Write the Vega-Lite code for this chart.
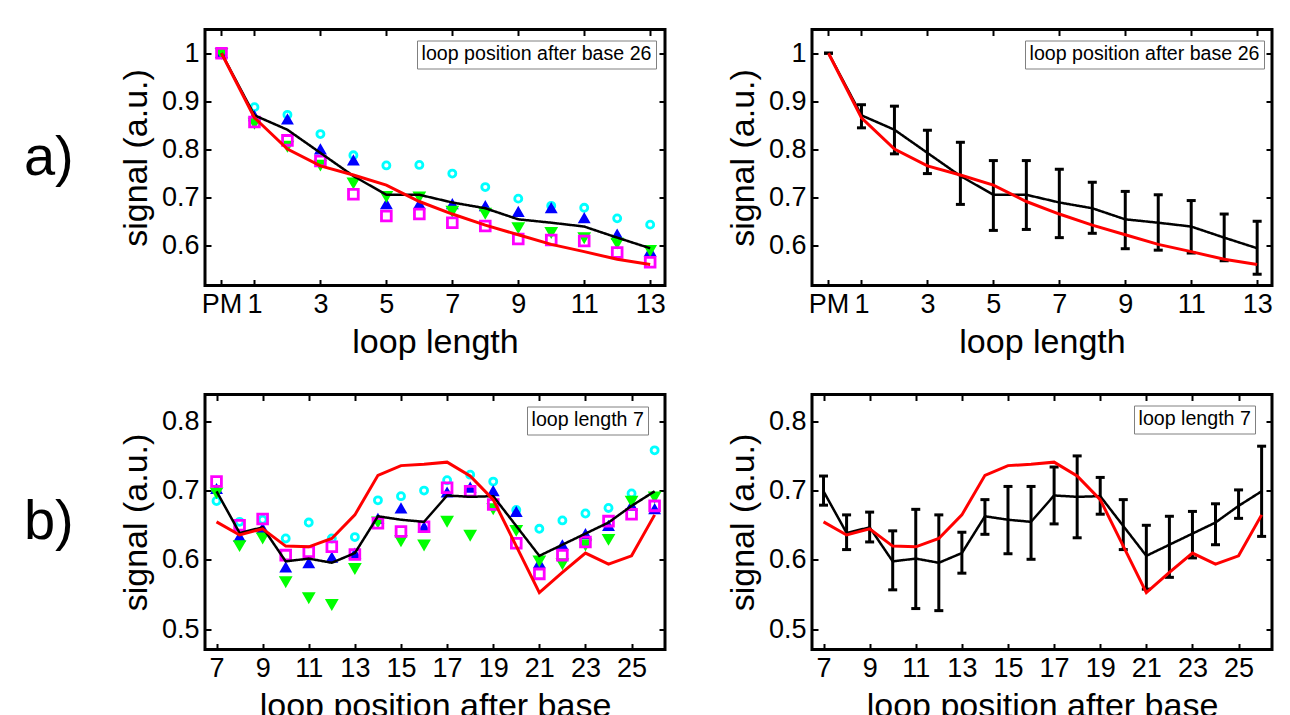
{
  "$schema": "https://vega.github.io/schema/vega-lite/v6.json",
  "background": "white",
  "padding": {"left": 22, "top": 26.5, "right": 5, "bottom": 5},
  "bounds": "flush",
  "columns": 2,
  "spacing": {"row": 109, "column": 147},
  "resolve": {"scale": {"strokeDash": "independent"}, "legend": {"strokeDash": "independent"}},
  "config": {
    "font": "Liberation Sans",
    "view": {"stroke": "black", "strokeWidth": 3},
    "axis": {"labelFont": "Liberation Sans", "labelFontSize": 27, "labelColor": "black", "titleFont": "Liberation Sans", "titleFontSize": 34, "titleFontWeight": "normal", "titleColor": "black", "tickColor": "black", "tickSize": -6, "tickWidth": 2, "domain": false, "grid": false, "labelPadding": 12, "titlePadding": 8, "labelFlush": false, "labelOverlap": false},
    "legend": {"labelFont": "Liberation Sans", "labelFontSize": 19.6, "labelColor": "black", "labelLimit": 0, "strokeColor": "#808080", "fillColor": "white", "padding": 4, "symbolSize": 0, "symbolOpacity": 0, "symbolStrokeWidth": 0, "labelOffset": -19, "titlePadding": 0}
  },
  "datasets": {
    "top_scatter": [
      {"x":0,"s":"s1","v":1.0},{"x":0,"s":"s2","v":1.0},{"x":0,"s":"s3","v":1.0},{"x":0,"s":"s4","v":1.0},
      {"x":1,"s":"s1","v":0.888},{"x":1,"s":"s2","v":0.869},{"x":1,"s":"s3","v":0.855},{"x":1,"s":"s4","v":0.857},
      {"x":2,"s":"s1","v":0.872},{"x":2,"s":"s2","v":0.862},{"x":2,"s":"s3","v":0.807},{"x":2,"s":"s4","v":0.819},
      {"x":3,"s":"s1","v":0.832},{"x":3,"s":"s2","v":0.800},{"x":3,"s":"s3","v":0.768},{"x":3,"s":"s4","v":0.776},
      {"x":4,"s":"s1","v":0.788},{"x":4,"s":"s2","v":0.777},{"x":4,"s":"s3","v":0.731},{"x":4,"s":"s4","v":0.707},
      {"x":5,"s":"s1","v":0.767},{"x":5,"s":"s2","v":0.686},{"x":5,"s":"s3","v":0.703},{"x":5,"s":"s4","v":0.662},
      {"x":6,"s":"s1","v":0.768},{"x":6,"s":"s2","v":0.686},{"x":6,"s":"s3","v":0.702},{"x":6,"s":"s4","v":0.666},
      {"x":7,"s":"s1","v":0.750},{"x":7,"s":"s2","v":0.686},{"x":7,"s":"s3","v":0.672},{"x":7,"s":"s4","v":0.648},
      {"x":8,"s":"s1","v":0.722},{"x":8,"s":"s2","v":0.682},{"x":8,"s":"s3","v":0.668},{"x":8,"s":"s4","v":0.641},
      {"x":9,"s":"s1","v":0.698},{"x":9,"s":"s2","v":0.670},{"x":9,"s":"s3","v":0.638},{"x":9,"s":"s4","v":0.614},
      {"x":10,"s":"s1","v":0.683},{"x":10,"s":"s2","v":0.678},{"x":10,"s":"s3","v":0.628},{"x":10,"s":"s4","v":0.612},
      {"x":11,"s":"s1","v":0.679},{"x":11,"s":"s2","v":0.657},{"x":11,"s":"s3","v":0.617},{"x":11,"s":"s4","v":0.610},
      {"x":12,"s":"s1","v":0.657},{"x":12,"s":"s2","v":0.623},{"x":12,"s":"s3","v":0.606},{"x":12,"s":"s4","v":0.586},
      {"x":13,"s":"s1","v":0.644},{"x":13,"s":"s2","v":0.588},{"x":13,"s":"s3","v":0.591},{"x":13,"s":"s4","v":0.566}
    ],
    "top_mean": [
      {"x":0,"m":1.0,"lo":1.0,"hi":1.0},
      {"x":1,"m":0.871,"lo":0.845,"hi":0.893},
      {"x":2,"m":0.841,"lo":0.791,"hi":0.890},
      {"x":3,"m":0.793,"lo":0.750,"hi":0.840},
      {"x":4,"m":0.745,"lo":0.686,"hi":0.815},
      {"x":5,"m":0.706,"lo":0.632,"hi":0.777},
      {"x":6,"m":0.706,"lo":0.634,"hi":0.777},
      {"x":7,"m":0.690,"lo":0.617,"hi":0.759},
      {"x":8,"m":0.678,"lo":0.626,"hi":0.732},
      {"x":9,"m":0.655,"lo":0.594,"hi":0.713},
      {"x":10,"m":0.648,"lo":0.591,"hi":0.706},
      {"x":11,"m":0.640,"lo":0.585,"hi":0.694},
      {"x":12,"m":0.617,"lo":0.569,"hi":0.666},
      {"x":13,"m":0.595,"lo":0.541,"hi":0.651}
    ],
    "top_model": [
      {"x":0,"v":1.0},{"x":1,"v":0.866},{"x":2,"v":0.801},{"x":3,"v":0.766},{"x":4,"v":0.747},{"x":5,"v":0.726},{"x":6,"v":0.692},
      {"x":7,"v":0.666},{"x":8,"v":0.643},{"x":9,"v":0.623},{"x":10,"v":0.603},{"x":11,"v":0.588},{"x":12,"v":0.572},{"x":13,"v":0.561}
    ],
    "bot_scatter": [
      {"x":7,"s":"s1","v":0.685},{"x":7,"s":"s2","v":0.702},{"x":7,"s":"s3","v":0.697},{"x":7,"s":"s4","v":0.713},
      {"x":8,"s":"s1","v":0.655},{"x":8,"s":"s2","v":0.633},{"x":8,"s":"s3","v":0.621},{"x":8,"s":"s4","v":0.650},
      {"x":9,"s":"s1","v":0.658},{"x":9,"s":"s2","v":0.645},{"x":9,"s":"s3","v":0.632},{"x":9,"s":"s4","v":0.659},
      {"x":10,"s":"s1","v":0.631},{"x":10,"s":"s2","v":0.589},{"x":10,"s":"s3","v":0.569},{"x":10,"s":"s4","v":0.607},
      {"x":11,"s":"s1","v":0.654},{"x":11,"s":"s2","v":0.595},{"x":11,"s":"s3","v":0.546},{"x":11,"s":"s4","v":0.612},
      {"x":12,"s":"s1","v":0.631},{"x":12,"s":"s2","v":0.603},{"x":12,"s":"s3","v":0.536},{"x":12,"s":"s4","v":0.619},
      {"x":13,"s":"s1","v":0.633},{"x":13,"s":"s2","v":0.609},{"x":13,"s":"s3","v":0.588},{"x":13,"s":"s4","v":0.608},
      {"x":14,"s":"s1","v":0.686},{"x":14,"s":"s2","v":0.659},{"x":14,"s":"s3","v":0.655},{"x":14,"s":"s4","v":0.653},
      {"x":15,"s":"s1","v":0.692},{"x":15,"s":"s2","v":0.674},{"x":15,"s":"s3","v":0.628},{"x":15,"s":"s4","v":0.641},
      {"x":16,"s":"s1","v":0.700},{"x":16,"s":"s2","v":0.647},{"x":16,"s":"s3","v":0.622},{"x":16,"s":"s4","v":0.648},
      {"x":17,"s":"s1","v":0.715},{"x":17,"s":"s2","v":0.697},{"x":17,"s":"s3","v":0.656},{"x":17,"s":"s4","v":0.704},
      {"x":18,"s":"s1","v":0.723},{"x":18,"s":"s2","v":0.704},{"x":18,"s":"s3","v":0.636},{"x":18,"s":"s4","v":0.699},
      {"x":19,"s":"s1","v":0.713},{"x":19,"s":"s2","v":0.699},{"x":19,"s":"s3","v":0.674},{"x":19,"s":"s4","v":0.680},
      {"x":20,"s":"s1","v":0.672},{"x":20,"s":"s2","v":0.669},{"x":20,"s":"s3","v":0.643},{"x":20,"s":"s4","v":0.624},
      {"x":21,"s":"s1","v":0.645},{"x":21,"s":"s2","v":0.595},{"x":21,"s":"s3","v":0.599},{"x":21,"s":"s4","v":0.580},
      {"x":22,"s":"s1","v":0.657},{"x":22,"s":"s2","v":0.621},{"x":22,"s":"s3","v":0.595},{"x":22,"s":"s4","v":0.607},
      {"x":23,"s":"s1","v":0.667},{"x":23,"s":"s2","v":0.637},{"x":23,"s":"s3","v":0.622},{"x":23,"s":"s4","v":0.626},
      {"x":24,"s":"s1","v":0.675},{"x":24,"s":"s2","v":0.649},{"x":24,"s":"s3","v":0.630},{"x":24,"s":"s4","v":0.656},
      {"x":25,"s":"s1","v":0.696},{"x":25,"s":"s2","v":0.678},{"x":25,"s":"s3","v":0.685},{"x":25,"s":"s4","v":0.666},
      {"x":26,"s":"s1","v":0.758},{"x":26,"s":"s2","v":0.673},{"x":26,"s":"s3","v":0.691},{"x":26,"s":"s4","v":0.678}
    ],
    "bot_mean": [
      {"x":7,"m":0.699,"lo":0.679,"hi":0.721},
      {"x":8,"m":0.639,"lo":0.615,"hi":0.665},
      {"x":9,"m":0.647,"lo":0.626,"hi":0.669},
      {"x":10,"m":0.598,"lo":0.557,"hi":0.642},
      {"x":11,"m":0.602,"lo":0.530,"hi":0.673},
      {"x":12,"m":0.596,"lo":0.527,"hi":0.665},
      {"x":13,"m":0.610,"lo":0.581,"hi":0.640},
      {"x":14,"m":0.663,"lo":0.637,"hi":0.687},
      {"x":15,"m":0.658,"lo":0.609,"hi":0.706},
      {"x":16,"m":0.655,"lo":0.601,"hi":0.706},
      {"x":17,"m":0.693,"lo":0.652,"hi":0.734},
      {"x":18,"m":0.691,"lo":0.632,"hi":0.750},
      {"x":19,"m":0.692,"lo":0.666,"hi":0.719},
      {"x":20,"m":0.649,"lo":0.615,"hi":0.687},
      {"x":21,"m":0.606,"lo":0.558,"hi":0.650},
      {"x":22,"m":0.622,"lo":0.575,"hi":0.663},
      {"x":23,"m":0.638,"lo":0.603,"hi":0.670},
      {"x":24,"m":0.654,"lo":0.622,"hi":0.681},
      {"x":25,"m":0.678,"lo":0.660,"hi":0.701},
      {"x":26,"m":0.699,"lo":0.634,"hi":0.764}
    ],
    "bot_model": [
      {"x":7,"v":0.655},{"x":8,"v":0.636},{"x":9,"v":0.645},{"x":10,"v":0.620},{"x":11,"v":0.619},{"x":12,"v":0.631},{"x":13,"v":0.665},
      {"x":14,"v":0.722},{"x":15,"v":0.736},{"x":16,"v":0.738},{"x":17,"v":0.741},{"x":18,"v":0.721},{"x":19,"v":0.687},{"x":20,"v":0.620},
      {"x":21,"v":0.553},{"x":22,"v":0.582},{"x":23,"v":0.610},{"x":24,"v":0.594},{"x":25,"v":0.606},{"x":26,"v":0.665}
    ]
  },
  "concat": [
    {
      "width": 460, "height": 256,
      "title": {"text": "a)", "orient": "left", "angle": 0, "align": "right", "baseline": "middle", "fontSize": 56, "font": "Liberation Sans", "fontWeight": "normal", "color": "black", "offset": -4},
      "resolve": {"axis": {"x": "independent", "y": "independent"}},
      "layer": [
        {
          "data": {"name": "top_scatter"},
          "mark": {"type": "point", "opacity": 1, "strokeWidth": 2.8},
          "encoding": {
            "x": {"field": "x", "type": "quantitative", "scale": {"domain": [-0.5, 13.45], "nice": false, "zero": false},
                  "axis": {"orient": "bottom", "title": "loop length", "values": [0,1,3,5,7,9,11,13], "labelExpr": "datum.value == 0 ? 'PM' : datum.label"}},
            "y": {"field": "v", "type": "quantitative", "scale": {"domain": [0.5176, 1.0492], "nice": false, "zero": false},
                  "axis": {"orient": "left", "title": "signal (a.u.)", "values": [0.6,0.7,0.8,0.9,1], "format": "~g"}},
            "shape": {"field": "s", "type": "nominal", "scale": {"domain": ["s1","s2","s3","s4"], "range": ["circle","triangle-up","triangle-down","square"]}, "legend": null},
            "stroke": {"field": "s", "type": "nominal", "scale": {"domain": ["s1","s2","s3","s4"], "range": ["#00ffff","#0000ff","#00ff00","#ff00ff"]}, "legend": null},
            "fill": {"field": "s", "type": "nominal", "scale": {"domain": ["s1","s2","s3","s4"], "range": ["transparent","#0000ff","#00ff00","transparent"]}, "legend": null},
            "size": {"field": "s", "type": "nominal", "scale": {"domain": ["s1","s2","s3","s4"], "range": [50, 95, 95, 64]}, "legend": null}
          }
        },
        {
          "data": {"name": "top_mean"},
          "mark": {"type": "line", "color": "black", "strokeWidth": 2.5},
          "encoding": {
            "x": {"field": "x", "type": "quantitative", "scale": {"domain": [-0.5, 13.45], "nice": false, "zero": false},
                  "axis": {"orient": "top", "title": null, "labels": false, "values": [0,1,3,5,7,9,11,13]}},
            "y": {"field": "m", "type": "quantitative", "scale": {"domain": [0.5176, 1.0492], "nice": false, "zero": false},
                  "axis": {"orient": "right", "title": null, "labels": false, "values": [0.6,0.7,0.8,0.9,1]}},
            "strokeDash": {"datum": "loop position after base 26", "type": "nominal", "scale": {"range": [[1,0]]},
                           "legend": {"title": null, "orient": "none", "legendX": 212, "legendY": 11}}
          }
        },
        {
          "data": {"name": "top_model"},
          "mark": {"type": "line", "color": "#ff0000", "strokeWidth": 3},
          "encoding": {
            "x": {"field": "x", "type": "quantitative", "scale": {"domain": [-0.5, 13.45], "nice": false, "zero": false}, "axis": null},
            "y": {"field": "v", "type": "quantitative", "scale": {"domain": [0.5176, 1.0492], "nice": false, "zero": false}, "axis": null}
          }
        }
      ]
    },
    {
      "width": 460, "height": 256,
      "resolve": {"axis": {"x": "independent", "y": "independent"}},
      "layer": [
        {
          "data": {"name": "top_mean"},
          "mark": {"type": "rule", "color": "black", "strokeWidth": 3},
          "encoding": {
            "x": {"field": "x", "type": "quantitative", "scale": {"domain": [-0.5, 13.45], "nice": false, "zero": false},
                  "axis": {"orient": "bottom", "title": "loop length", "values": [0,1,3,5,7,9,11,13], "labelExpr": "datum.value == 0 ? 'PM' : datum.label"}},
            "y": {"field": "lo", "type": "quantitative", "scale": {"domain": [0.5176, 1.0492], "nice": false, "zero": false},
                  "axis": {"orient": "left", "title": "signal (a.u.)", "values": [0.6,0.7,0.8,0.9,1], "format": "~g"}},
            "y2": {"field": "hi"}
          }
        },
        {
          "data": {"name": "top_mean"},
          "mark": {"type": "tick", "orient": "horizontal", "color": "black", "size": 9, "thickness": 3, "opacity": 1},
          "encoding": {
            "x": {"field": "x", "type": "quantitative", "scale": {"domain": [-0.5, 13.45], "nice": false, "zero": false},
                  "axis": {"orient": "top", "title": null, "labels": false, "values": [0,1,3,5,7,9,11,13]}},
            "y": {"field": "lo", "type": "quantitative", "scale": {"domain": [0.5176, 1.0492], "nice": false, "zero": false},
                  "axis": {"orient": "right", "title": null, "labels": false, "values": [0.6,0.7,0.8,0.9,1]}}
          }
        },
        {
          "data": {"name": "top_mean"},
          "mark": {"type": "tick", "orient": "horizontal", "color": "black", "size": 9, "thickness": 3, "opacity": 1},
          "encoding": {
            "x": {"field": "x", "type": "quantitative", "scale": {"domain": [-0.5, 13.45], "nice": false, "zero": false}, "axis": null},
            "y": {"field": "hi", "type": "quantitative", "scale": {"domain": [0.5176, 1.0492], "nice": false, "zero": false}, "axis": null}
          }
        },
        {
          "data": {"name": "top_mean"},
          "mark": {"type": "line", "color": "black", "strokeWidth": 2.5},
          "encoding": {
            "x": {"field": "x", "type": "quantitative", "scale": {"domain": [-0.5, 13.45], "nice": false, "zero": false}, "axis": null},
            "y": {"field": "m", "type": "quantitative", "scale": {"domain": [0.5176, 1.0492], "nice": false, "zero": false}, "axis": null},
            "strokeDash": {"datum": "loop position after base 26", "type": "nominal", "scale": {"range": [[1,0]]},
                           "legend": {"title": null, "orient": "none", "legendX": 213, "legendY": 11}}
          }
        },
        {
          "data": {"name": "top_model"},
          "mark": {"type": "line", "color": "#ff0000", "strokeWidth": 3},
          "encoding": {
            "x": {"field": "x", "type": "quantitative", "scale": {"domain": [-0.5, 13.45], "nice": false, "zero": false}, "axis": null},
            "y": {"field": "v", "type": "quantitative", "scale": {"domain": [0.5176, 1.0492], "nice": false, "zero": false}, "axis": null}
          }
        }
      ]
    },
    {
      "width": 460, "height": 255,
      "title": {"text": "b)", "orient": "left", "angle": 0, "align": "right", "baseline": "middle", "fontSize": 56, "font": "Liberation Sans", "fontWeight": "normal", "color": "black", "offset": -4},
      "resolve": {"axis": {"x": "independent", "y": "independent"}},
      "layer": [
        {
          "data": {"name": "bot_scatter"},
          "mark": {"type": "point", "opacity": 1, "strokeWidth": 2.8},
          "encoding": {
            "x": {"field": "x", "type": "quantitative", "scale": {"domain": [6.5, 26.45], "nice": false, "zero": false},
                  "axis": {"orient": "bottom", "title": "loop position after base", "values": [7,9,11,13,15,17,19,21,23,25]}},
            "y": {"field": "v", "type": "quantitative", "scale": {"domain": [0.471, 0.8385], "nice": false, "zero": false},
                  "axis": {"orient": "left", "title": "signal (a.u.)", "values": [0.5,0.6,0.7,0.8], "format": "~g"}},
            "shape": {"field": "s", "type": "nominal", "scale": {"domain": ["s1","s2","s3","s4"], "range": ["circle","triangle-up","triangle-down","square"]}, "legend": null},
            "stroke": {"field": "s", "type": "nominal", "scale": {"domain": ["s1","s2","s3","s4"], "range": ["#00ffff","#0000ff","#00ff00","#ff00ff"]}, "legend": null},
            "fill": {"field": "s", "type": "nominal", "scale": {"domain": ["s1","s2","s3","s4"], "range": ["transparent","#0000ff","#00ff00","transparent"]}, "legend": null},
            "size": {"field": "s", "type": "nominal", "scale": {"domain": ["s1","s2","s3","s4"], "range": [50, 95, 95, 64]}, "legend": null}
          }
        },
        {
          "data": {"name": "bot_mean"},
          "mark": {"type": "line", "color": "black", "strokeWidth": 2.5},
          "encoding": {
            "x": {"field": "x", "type": "quantitative", "scale": {"domain": [6.5, 26.45], "nice": false, "zero": false},
                  "axis": {"orient": "top", "title": null, "labels": false, "values": [7,9,11,13,15,17,19,21,23,25]}},
            "y": {"field": "m", "type": "quantitative", "scale": {"domain": [0.471, 0.8385], "nice": false, "zero": false},
                  "axis": {"orient": "right", "title": null, "labels": false, "values": [0.5,0.6,0.7,0.8]}},
            "strokeDash": {"datum": "loop length 7", "type": "nominal", "scale": {"range": [[1,0]]},
                           "legend": {"title": null, "orient": "none", "legendX": 322, "legendY": 12}}
          }
        },
        {
          "data": {"name": "bot_model"},
          "mark": {"type": "line", "color": "#ff0000", "strokeWidth": 3},
          "encoding": {
            "x": {"field": "x", "type": "quantitative", "scale": {"domain": [6.5, 26.45], "nice": false, "zero": false}, "axis": null},
            "y": {"field": "v", "type": "quantitative", "scale": {"domain": [0.471, 0.8385], "nice": false, "zero": false}, "axis": null}
          }
        }
      ]
    },
    {
      "width": 460, "height": 255,
      "resolve": {"axis": {"x": "independent", "y": "independent"}},
      "layer": [
        {
          "data": {"name": "bot_mean"},
          "mark": {"type": "rule", "color": "black", "strokeWidth": 3},
          "encoding": {
            "x": {"field": "x", "type": "quantitative", "scale": {"domain": [6.5, 26.45], "nice": false, "zero": false},
                  "axis": {"orient": "bottom", "title": "loop position after base", "values": [7,9,11,13,15,17,19,21,23,25]}},
            "y": {"field": "lo", "type": "quantitative", "scale": {"domain": [0.471, 0.8385], "nice": false, "zero": false},
                  "axis": {"orient": "left", "title": "signal (a.u.)", "values": [0.5,0.6,0.7,0.8], "format": "~g"}},
            "y2": {"field": "hi"}
          }
        },
        {
          "data": {"name": "bot_mean"},
          "mark": {"type": "tick", "orient": "horizontal", "color": "black", "size": 9, "thickness": 3, "opacity": 1},
          "encoding": {
            "x": {"field": "x", "type": "quantitative", "scale": {"domain": [6.5, 26.45], "nice": false, "zero": false},
                  "axis": {"orient": "top", "title": null, "labels": false, "values": [7,9,11,13,15,17,19,21,23,25]}},
            "y": {"field": "lo", "type": "quantitative", "scale": {"domain": [0.471, 0.8385], "nice": false, "zero": false},
                  "axis": {"orient": "right", "title": null, "labels": false, "values": [0.5,0.6,0.7,0.8]}}
          }
        },
        {
          "data": {"name": "bot_mean"},
          "mark": {"type": "tick", "orient": "horizontal", "color": "black", "size": 9, "thickness": 3, "opacity": 1},
          "encoding": {
            "x": {"field": "x", "type": "quantitative", "scale": {"domain": [6.5, 26.45], "nice": false, "zero": false}, "axis": null},
            "y": {"field": "hi", "type": "quantitative", "scale": {"domain": [0.471, 0.8385], "nice": false, "zero": false}, "axis": null}
          }
        },
        {
          "data": {"name": "bot_mean"},
          "mark": {"type": "line", "color": "black", "strokeWidth": 2.5},
          "encoding": {
            "x": {"field": "x", "type": "quantitative", "scale": {"domain": [6.5, 26.45], "nice": false, "zero": false}, "axis": null},
            "y": {"field": "m", "type": "quantitative", "scale": {"domain": [0.471, 0.8385], "nice": false, "zero": false}, "axis": null},
            "strokeDash": {"datum": "loop length 7", "type": "nominal", "scale": {"range": [[1,0]]},
                           "legend": {"title": null, "orient": "none", "legendX": 322, "legendY": 11}}
          }
        },
        {
          "data": {"name": "bot_model"},
          "mark": {"type": "line", "color": "#ff0000", "strokeWidth": 3},
          "encoding": {
            "x": {"field": "x", "type": "quantitative", "scale": {"domain": [6.5, 26.45], "nice": false, "zero": false}, "axis": null},
            "y": {"field": "v", "type": "quantitative", "scale": {"domain": [0.471, 0.8385], "nice": false, "zero": false}, "axis": null}
          }
        }
      ]
    }
  ]
}
